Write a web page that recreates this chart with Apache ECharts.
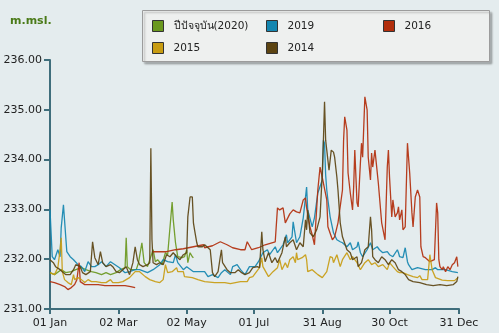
<!DOCTYPE html>
<html>
<head>
<meta charset="utf-8">
<script src="https://cdn.jsdelivr.net/npm/echarts@6/dist/echarts.min.js"></script>
<style>
  html, body { margin: 0; padding: 0; background: #e4ecee; }
  #chart { width: 499px; height: 333px; }
</style>
</head>
<body>
<div id="chart"></div>
<script>
// Daily water level (m.msl.) by day of year, one pair of arrays per year
const tickDays = [0, 61, 122, 182, 243, 303, 365];
const tickLabels = ['01 Jan', '02 Mar', '02 May', '01 Jul', '31 Aug', '30 Oct', '31 Dec'];
const yTicks = [231, 232, 233, 234, 235, 236];

const seriesNames = ['ปีปัจจุบัน(2020)', '2019', '2016', '2015', '2014'];

const days2020 = [0, 4, 10, 14, 19, 23, 28, 32, 37, 41, 46, 50, 54, 59, 63, 67, 68, 69, 72, 77, 79, 82, 83, 84, 87, 92, 94, 96, 100, 103, 105, 109, 110, 111, 112, 114, 118, 120, 122, 123, 125, 127, 128];
const level2020 = [231.73, 231.69, 231.79, 231.73, 231.75, 231.79, 231.83, 231.79, 231.75, 231.73, 231.69, 231.73, 231.69, 231.73, 231.79, 231.83, 232.43, 231.85, 231.79, 231.79, 231.93, 232.33, 232.33, 231.93, 231.85, 232.19, 231.95, 231.99, 231.89, 232.13, 232.09, 233.15, 232.79, 232.75, 232.33, 232.05, 232.03, 232.05, 232.19, 231.93, 232.13, 232.05, 232.03];

const days2019 = [0, 2, 4, 7, 9, 10, 12, 13, 15, 18, 21, 25, 28, 31, 34, 37, 40, 43, 46, 50, 54, 58, 62, 67, 71, 76, 80, 87, 92, 98, 101, 105, 110, 112, 114, 119, 122, 128, 134, 138, 141, 145, 150, 153, 156, 161, 163, 167, 170, 174, 178, 183, 186, 190, 194, 196, 201, 203, 208, 211, 212, 216, 217, 220, 223, 226, 229, 230, 234, 236, 239, 243, 244, 245, 246, 247, 248, 250, 253, 256, 259, 261, 265, 268, 270, 274, 275, 277, 279, 283, 286, 288, 292, 294, 297, 301, 303, 306, 310, 311, 312, 315, 317, 319, 320, 323, 328, 335, 341, 344, 346, 353, 359, 364];
const level2019 = [232.99, 232.05, 231.99, 232.19, 232.05, 232.63, 233.09, 233.05, 232.15, 232.05, 231.99, 231.89, 231.85, 231.75, 231.95, 231.85, 231.85, 231.89, 231.95, 231.85, 231.95, 231.89, 231.83, 231.73, 231.75, 231.79, 231.79, 231.73, 231.79, 231.89, 231.99, 231.95, 231.93, 232.09, 231.93, 231.79, 231.85, 231.75, 231.75, 231.75, 231.65, 231.69, 231.63, 231.73, 231.79, 231.69, 231.85, 231.89, 231.79, 231.69, 231.85, 231.85, 231.95, 232.13, 232.19, 232.09, 232.25, 232.13, 232.29, 232.49, 232.33, 232.45, 232.75, 232.33, 232.45, 232.83, 233.45, 232.99, 232.65, 232.83, 233.33, 233.59, 234.39, 234.33, 233.69, 233.39, 233.19, 232.85, 232.53, 232.39, 232.35, 232.33, 232.25, 232.33, 232.19, 232.25, 232.35, 232.13, 232.05, 232.19, 232.33, 232.19, 232.25, 232.19, 232.13, 232.15, 232.09, 232.05, 232.19, 232.13, 232.05, 232.03, 232.23, 231.95, 231.89, 231.79, 231.83, 231.79, 231.79, 231.83, 231.79, 231.79, 231.75, 231.73];

// null marks the days without readings
const days2016 = [0, 4, 9, 13, 16, 19, 22, 24, 26, 27, 31, 37, 43, 49, 54, 61, 67, 72, 76, 80, 91, 98, 104, 112, 119, 128, 137, 138, 145, 152, 153, 158, 163, 170, 174, 176, 180, 186, 192, 198, 201, 203, 205, 208, 210, 211, 214, 217, 220, 223, 226, 228, 229, 232, 234, 236, 239, 241, 244, 247, 248, 252, 254, 257, 261, 262, 263, 265, 266, 268, 270, 271, 272, 274, 275, 277, 278, 279, 281, 283, 284, 286, 287, 288, 290, 293, 296, 299, 301, 302, 303, 305, 306, 308, 310, 311, 312, 314, 315, 317, 319, 320, 321, 323, 324, 326, 328, 329, 330, 331, 333, 335, 337, 339, 343, 345, 346, 347, 348, 350, 351, 353, 354, 355, 357, 359, 360, 361, 363, 364];
const level2016 = [231.55, 231.53, 231.49, 231.45, 231.39, 231.43, 231.49, 231.59, 231.93, 231.55, 231.49, 231.49, 231.49, 231.47, 231.47, 231.47, 231.47, 231.45, 231.43, null, 232.15, 232.15, 232.15, 232.19, 232.21, 232.25, 232.29, 232.23, 232.27, 232.35, 232.35, 232.29, 232.23, 232.19, 232.19, 232.35, 232.19, 232.23, 232.29, 232.33, 232.35, 233.03, 232.99, 233.03, 232.73, 232.73, 232.91, 232.99, 232.95, 232.93, 233.19, 233.23, 233.03, 232.65, 232.49, 232.29, 233.39, 233.85, 233.53, 233.19, 232.65, 232.39, 232.45, 232.73, 233.39, 234.39, 234.86, 234.59, 233.73, 233.33, 232.99, 233.45, 234.19, 233.13, 233.05, 233.93, 234.33, 234.05, 235.26, 235.00, 234.05, 233.59, 234.13, 233.85, 234.19, 233.53, 232.73, 232.39, 233.85, 234.19, 233.65, 232.85, 233.19, 232.85, 232.93, 233.05, 232.79, 232.99, 232.59, 232.65, 234.33, 234.33, 233.73, 232.93, 232.65, 233.25, 233.39, 233.39, 233.25, 232.25, 232.05, 232.03, 231.99, 231.95, 231.99, 233.13, 232.93, 231.99, 231.85, 231.79, 231.85, 231.75, 231.73, 231.85, 231.79, 231.89, 231.85, 231.93, 232.05, 231.85];

const days2015 = [0, 4, 7, 9, 10, 11, 13, 16, 19, 21, 22, 25, 28, 31, 34, 37, 41, 46, 50, 54, 56, 61, 65, 71, 76, 80, 85, 89, 94, 98, 101, 103, 104, 105, 109, 113, 114, 119, 120, 127, 132, 138, 147, 156, 161, 170, 176, 178, 181, 187, 189, 190, 195, 196, 199, 203, 205, 207, 210, 212, 214, 217, 219, 220, 221, 225, 228, 229, 230, 234, 236, 239, 243, 247, 250, 252, 253, 256, 259, 261, 265, 268, 270, 274, 277, 278, 281, 284, 287, 290, 293, 297, 301, 303, 306, 310, 312, 315, 319, 324, 328, 330, 332, 337, 339, 341, 344, 350, 355, 361, 364];
const level2015 = [231.73, 231.69, 231.83, 232.19, 232.43, 231.75, 231.59, 231.53, 231.49, 231.69, 231.59, 231.63, 231.59, 231.53, 231.59, 231.55, 231.55, 231.53, 231.53, 231.59, 231.53, 231.53, 231.55, 231.63, 231.75, 231.75, 231.65, 231.59, 231.55, 231.53, 231.59, 231.89, 231.93, 231.73, 231.75, 231.83, 231.75, 231.75, 231.65, 231.63, 231.59, 231.55, 231.53, 231.53, 231.51, 231.55, 231.55, 231.63, 231.65, 231.83, 232.03, 231.85, 231.65, 231.69, 231.75, 231.83, 231.99, 231.79, 231.93, 231.83, 231.99, 232.05, 231.93, 232.13, 231.99, 232.03, 232.09, 231.99, 231.75, 231.79, 231.75, 231.69, 231.63, 231.75, 232.05, 232.03, 231.93, 232.09, 231.85, 231.99, 232.13, 231.99, 232.05, 231.93, 231.79, 231.79, 231.93, 231.99, 231.89, 231.93, 231.85, 231.89, 231.79, 231.93, 231.85, 231.75, 231.73, 231.73, 231.69, 231.65, 231.63, 231.67, 231.59, 231.59, 232.09, 231.79, 231.63, 231.58, 231.57, 231.57, 231.63];

const days2014 = [0, 3, 5, 9, 12, 14, 18, 21, 23, 27, 29, 32, 36, 38, 40, 43, 45, 47, 50, 54, 56, 59, 62, 65, 68, 71, 74, 76, 78, 80, 83, 87, 89, 90, 91, 92, 95, 98, 101, 104, 107, 110, 113, 116, 119, 122, 123, 125, 127, 128, 129, 131, 132, 136, 138, 140, 143, 145, 147, 150, 152, 153, 154, 158, 161, 165, 168, 171, 174, 178, 181, 185, 187, 189, 190, 192, 195, 198, 201, 203, 207, 210, 211, 214, 217, 220, 223, 226, 228, 229, 230, 232, 235, 238, 241, 243, 244, 245, 246, 247, 249, 251, 253, 254, 256, 257, 259, 261, 265, 268, 270, 274, 275, 278, 281, 284, 286, 287, 288, 290, 293, 296, 299, 302, 305, 308, 311, 314, 317, 320, 324, 330, 336, 342, 348, 354, 360, 363, 364];
const level2014 = [231.99, 231.93, 231.85, 231.79, 231.73, 231.69, 231.69, 231.79, 231.89, 231.85, 231.73, 231.69, 231.75, 232.35, 232.03, 231.89, 232.15, 231.93, 231.85, 231.89, 231.85, 231.75, 231.73, 231.79, 231.85, 231.69, 231.93, 232.25, 231.99, 231.89, 231.85, 231.89, 231.93, 234.23, 232.39, 231.93, 231.89, 231.93, 231.89, 232.09, 232.05, 232.13, 232.05, 231.99, 232.09, 232.13, 232.85, 233.25, 233.25, 232.73, 232.59, 232.33, 232.25, 232.25, 232.29, 232.25, 232.19, 231.73, 231.65, 231.75, 232.05, 232.19, 231.93, 231.79, 231.73, 231.73, 231.79, 231.73, 231.69, 231.73, 231.83, 231.85, 231.83, 232.55, 232.19, 231.95, 232.13, 231.93, 232.03, 231.93, 232.13, 232.45, 232.25, 232.33, 232.39, 232.19, 232.33, 232.25, 232.79, 232.59, 232.99, 232.53, 232.45, 232.59, 232.85, 233.73, 234.39, 235.16, 234.39, 234.19, 233.79, 234.19, 234.15, 234.05, 233.65, 233.39, 232.73, 232.45, 232.19, 232.13, 231.99, 232.05, 231.85, 231.93, 232.19, 232.25, 232.85, 232.59, 232.05, 231.99, 231.93, 232.05, 231.99, 231.89, 231.99, 231.93, 231.79, 231.75, 231.69, 231.59, 231.55, 231.53, 231.49, 231.47, 231.49, 231.47, 231.49, 231.55, 231.65];

const colors = ['#6a981e', '#1486b0', '#b22e0c', '#c89c12', '#5c4412'];

function pairs(days, levels) {
  return days.map((d, i) => [d, levels[i] === null ? '-' : levels[i]]);
}

const seriesData = [
  pairs(days2020, level2020),
  pairs(days2019, level2019),
  pairs(days2016, level2016),
  pairs(days2015, level2015),
  pairs(days2014, level2014)
];

const chart = echarts.init(document.getElementById('chart'), null, { renderer: 'canvas' });

const axisColor = '#3f6e7c';
const textFont = 'DejaVu Sans, Verdana, sans-serif';

const legendBase = {
  orient: 'vertical',
  top: 20,
  padding: 0,
  itemWidth: 11,
  itemHeight: 11,
  itemGap: 10,
  icon: 'rect',
  itemStyle: { borderColor: '#333', borderWidth: 1 },
  textStyle: { fontSize: 10.5, color: '#222', fontFamily: textFont, padding: [0, 0, 0, 5] },
  selectedMode: false,
  z: 10
};

chart.setOption({
  backgroundColor: '#e4ecee',
  animation: false,
  color: colors,
  title: {
    text: 'm.msl.',
    left: 10,
    top: 16,
    padding: 0,
    textStyle: { fontSize: 11, fontWeight: 'bold', color: '#4a7a18', fontFamily: textFont }
  },
  graphic: [{
    type: 'rect',
    z: 5,
    shape: { x: 142.5, y: 10.5, width: 347, height: 51 },
    style: {
      fill: '#eef0ef',
      stroke: '#9c9c9c',
      lineWidth: 1,
      shadowBlur: 2,
      shadowOffsetX: 2,
      shadowOffsetY: 2,
      shadowColor: 'rgba(0,0,0,0.25)'
    }
  }],
  legend: [
    Object.assign({}, legendBase, { left: 152, data: [seriesNames[0], seriesNames[3]] }),
    Object.assign({}, legendBase, { left: 266, data: [seriesNames[1], seriesNames[4]] }),
    Object.assign({}, legendBase, { left: 383, data: [seriesNames[2]] })
  ],
  grid: { left: 50, right: 40, top: 60, bottom: 24, containLabel: false },
  xAxis: {
    type: 'value',
    min: 0,
    max: 365,
    axisLine: { show: true, lineStyle: { color: axisColor, width: 2 } },
    axisTick: { show: true, customValues: tickDays, length: 5, lineStyle: { color: axisColor, width: 2 } },
    axisLabel: {
      customValues: tickDays,
      margin: 9,
      fontSize: 11,
      color: '#222',
      fontFamily: textFont,
      formatter: v => tickLabels[tickDays.indexOf(v)]
    },
    splitLine: { show: false }
  },
  yAxis: {
    type: 'value',
    min: yTicks[0],
    max: yTicks[yTicks.length - 1],
    interval: 1,
    axisLine: { show: true, lineStyle: { color: axisColor, width: 2 } },
    axisTick: { show: true, length: 6, lineStyle: { color: axisColor, width: 2 } },
    axisLabel: {
      margin: 8,
      fontSize: 11,
      color: '#222',
      fontFamily: textFont,
      formatter: v => v.toFixed(2)
    },
    splitLine: { show: false }
  },
  series: seriesNames.map((name, i) => ({
    name: name,
    type: 'line',
    data: seriesData[i],
    showSymbol: false,
    symbol: 'none',
    connectNulls: false,
    lineStyle: { width: 1.3, color: colors[i], opacity: 0.92 },
    itemStyle: { color: colors[i] },
    z: 2 + i
  }))
});
</script>
</body>
</html>
